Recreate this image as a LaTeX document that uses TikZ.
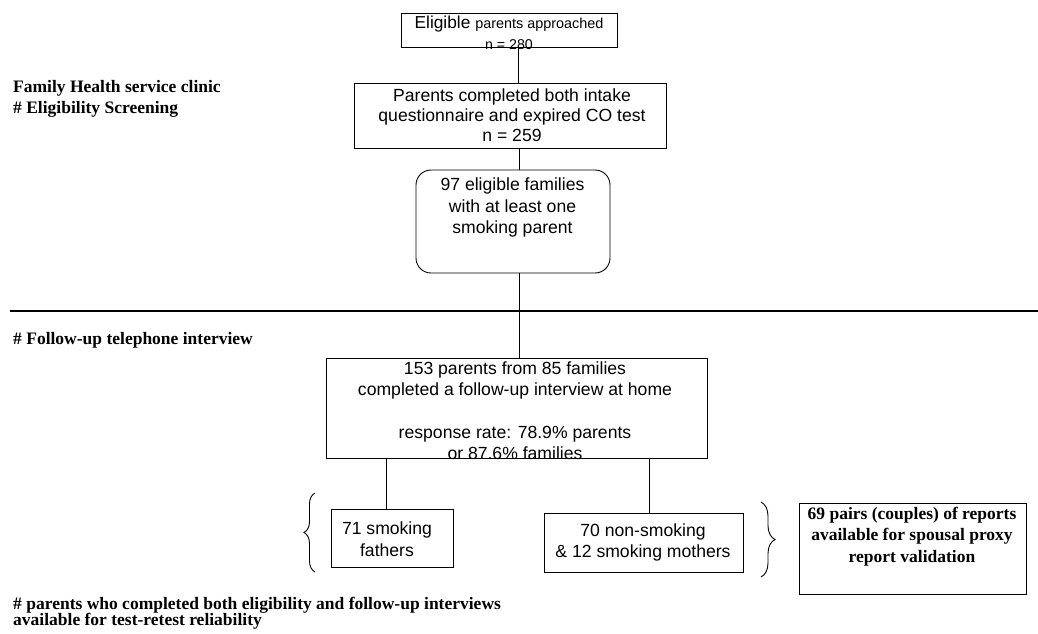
\documentclass[tikz,border=0pt]{standalone}
\usepackage{fontspec}
\setmainfont{Liberation Serif}
\newfontfamily\arialf{Liberation Sans}
\usetikzlibrary{decorations.pathreplacing}
\tikzset{
  boxr/.style={draw, line width=0.9pt, inner sep=0pt},
  rbox/.style={boxr, rounded corners=15pt},
  stxt/.style={font=\arialf\fontsize{17.6}{21.25}\selectfont, align=center, inner sep=0pt},
  btxt/.style={font=\bfseries\fontsize{17.5}{21}\selectfont, align=left, anchor=west, inner sep=0pt},
  wtxt/.style={font=\bfseries\fontsize{17.5}{21.5}\selectfont, align=center, inner sep=0pt},
  conn/.style={line width=0.9pt},
  bracestyle/.style={decorate, line width=0.9pt},
}
\begin{document}
\begin{tikzpicture}[x=1pt,y=-1pt]
\useasboundingbox (0,0) rectangle (1038,633);
% boxes
\node[boxr, minimum width=216pt, minimum height=34pt] (b1) at (509,30) {};
\node[boxr, minimum width=312pt, minimum height=65pt] (b2) at (510,115.5) {};
\node[rbox, minimum width=194pt, minimum height=103pt] (b3) at (513,221.5) {};
\node[boxr, minimum width=381pt, minimum height=100pt] (b4) at (516.5,408) {};
\node[boxr, minimum width=122pt, minimum height=58pt] (b5) at (392,538) {};
\node[boxr, minimum width=199pt, minimum height=59pt] (b6) at (643.5,542.5) {};
\node[boxr, minimum width=227pt, minimum height=91pt] (b7) at (912.5,548.5) {};
% texts
\node[stxt] (t1) at (509,33) {{\fontsize{17.3}{20}\selectfont Eligible} {\fontsize{14.4}{20}\selectfont parents approached}\\{\fontsize{14.2}{20}\selectfont n = 280}};
\node[stxt, font=\arialf\fontsize{17.6}{20}\selectfont] (t2) at (512,115) {Parents completed both intake\\questionnaire and expired CO test\\n = 259};
\node[stxt, font=\arialf\fontsize{17.6}{21.5}\selectfont] (t3) at (512.5,207.5) {97 eligible families\\with at least one\\smoking parent};
\node[stxt] (t4) at (515,410.5) {153 parents from 85 families\\completed a follow-up interview at home\\[21.25pt]response rate: 78.9\% parents\\or 87.6\% families};
\node[stxt, font=\arialf\fontsize{17.6}{22}\selectfont] (t5) at (387,539) {71 smoking\\fathers};
\node[stxt, font=\arialf\fontsize{17.6}{21}\selectfont] (t6) at (643,542.5) {70 non-smoking\\\& 12 smoking mothers};
\node[wtxt] (t7) at (912,536.5) {69 pairs (couples) of reports\\available for spousal proxy\\report validation};
% side labels
\node[btxt] (l1) at (13,98.5) {Family Health service clinic\\\# Eligibility Screening};
\node[btxt] (l2) at (13,340) {\# Follow-up telephone interview};
\node[btxt, font=\bfseries\fontsize{17.5}{16.5}\selectfont] (l3) at (13,613) {\# parents who completed both eligibility and follow-up interviews\\available for test-retest reliability};
% divider
\draw[line width=2.2pt] (10,311) -- (1038,311);
% connectors
\draw[conn] ([xshift=9pt]b1.south) -- ([xshift=9pt]b1.south |- b2.north);
\draw[conn] ([xshift=9pt]b2.south) -- ([xshift=9pt]b2.south |- b3.north);
\draw[conn] ([xshift=6pt]b3.south) -- ([xshift=6pt]b3.south |- b4.north);
\draw[conn] ([xshift=-6pt]b5.north) -- ([xshift=-6pt]b5.north |- b4.south);
\draw[conn] ([xshift=5.5pt]b6.north) -- ([xshift=5.5pt]b6.north |- b4.south);
% braces
\draw[bracestyle, decoration={brace, amplitude=11pt}] (315,572) -- (315,493);
\draw[bracestyle, decoration={brace, amplitude=14pt}] (761,502) -- (761,577);
\end{tikzpicture}
\end{document}
